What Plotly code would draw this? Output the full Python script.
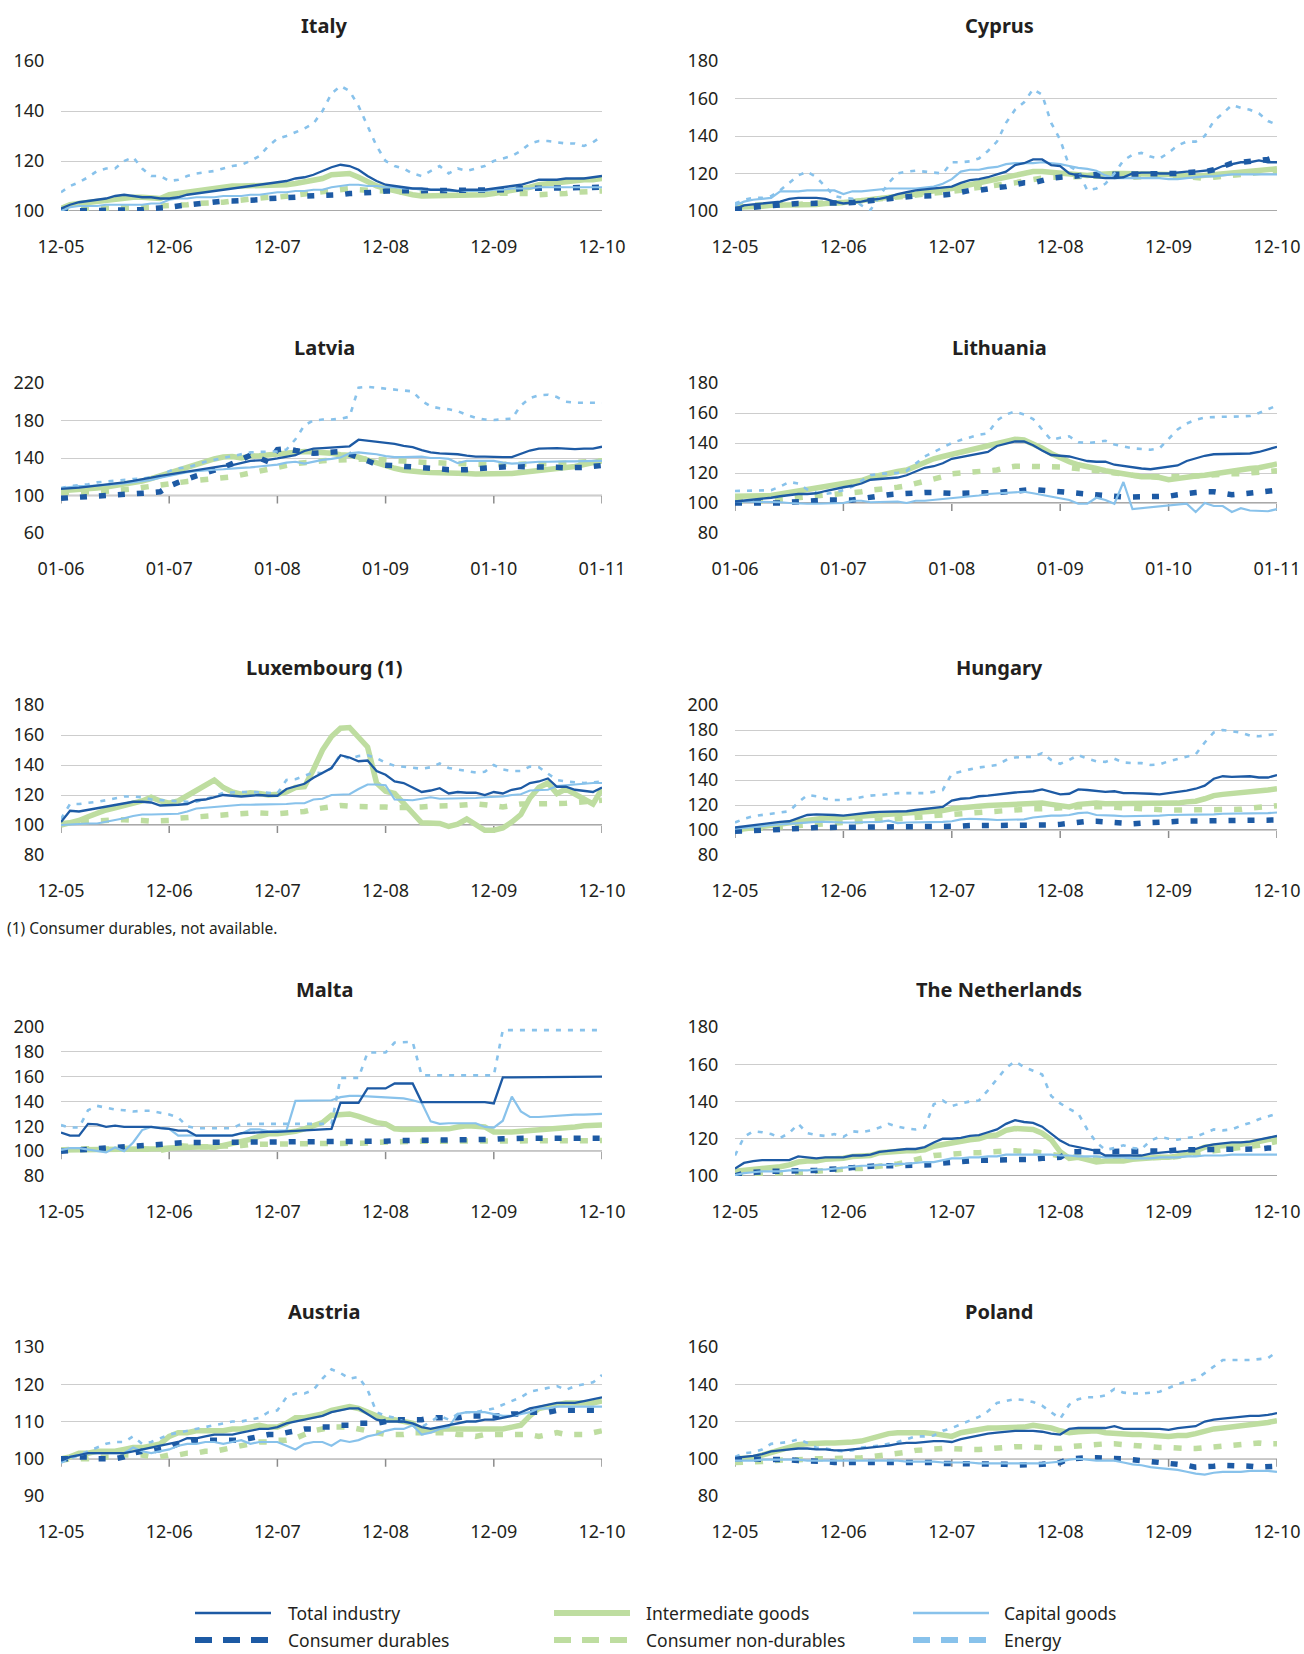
import plotly.graph_objects as go

# ---------------- data (monthly index values, 61 months) ----------------
MONTHS = list(range(61))
TICK_POS = [0, 12, 24, 36, 48, 60]
TICKS_DEC = ["12-05", "12-06", "12-07", "12-08", "12-09", "12-10"]
TICKS_JAN = ["01-06", "01-07", "01-08", "01-09", "01-10", "01-11"]

# Italy
IT_TOTAL = [101, 102.5, 103.5, 104, 104.5, 105, 106, 106.5, 106, 105.5, 105.5, 105, 105,
            105.5, 106.5, 107, 107.5, 108, 108.5, 109, 109.5, 110, 110.5, 111, 111.5,
            112, 113, 113.5, 114.5, 116, 117.5, 118.5, 118, 116.5, 114, 112, 110.5,
            110, 109.5, 109, 109, 108.5, 108.5, 108.5, 108, 108.5, 108.5, 108.5, 109,
            109.5, 110, 110.5, 111.5, 112.5, 112.5, 112.5, 113, 113, 113, 113.5, 114]
IT_INTERMEDIATE = [101, 102.5, 103, 103.5, 104, 104.5, 105, 105.5, 105.5, 105.5, 105.5, 105, 106.5,
                   107, 107.5, 108.5, 109, 109.5, 109.5, 110, 110, 110, 110, 110, 110,
                   110.5, 111, 111.5, 112, 113, 114.5, 115, 115, 113.5, 111.5, 110, 109,
                   108, 107, 106.5, 106, 106, 106, 106, 106, 106.5, 106.5, 106.5, 107,
                   107.5, 108, 108.5, 109.5, 110.5, 111, 111, 111.5, 112, 112.5, 112.5, 113]
IT_CAPITAL = [100, 101.5, 102, 102, 102, 102.5, 102.5, 102.5, 102.5, 102.5, 103, 103, 104.5,
              105, 105, 105.5, 105.5, 105.5, 106, 106, 106, 106.5, 106.5, 107, 107.5,
              107.5, 108, 108, 108.5, 108.5, 109.5, 110, 110.5, 110.5, 110, 110, 109.5,
              109.5, 109, 109, 108.5, 108.5, 108.5, 108, 108, 108, 108, 108, 108.5,
              108.5, 109, 109, 109, 109.5, 109.5, 109.5, 109.5, 109.5, 109.5, 109.5, 109.5]
IT_DURABLES = [100, 100, 100, 100, 100, 100, 100, 100, 100.5, 100.5, 101, 101, 101.5,
               102, 102.5, 103, 103.5, 103.5, 104, 104, 104, 104.5, 104.5, 105, 105,
               105.5, 105.5, 106, 106, 106, 106.5, 106.5, 107, 107, 107.5, 107.5, 108,
               108, 108, 108, 108, 108, 108, 108, 108, 108, 108, 108, 108,
               108.5, 108.5, 109, 109, 109, 109, 109.5, 109.5, 109.5, 109.5, 109.5, 109.5]
IT_NONDURABLES = [100.5, 101, 101, 101, 101, 101, 101.5, 101.5, 101.5, 101.5, 101.5, 102, 102,
                  102.5, 102.5, 103, 103, 103, 103.5, 104, 104.5, 105, 105.5, 105.5, 105.5,
                  106, 106.5, 107, 107, 107.5, 108, 108.5, 109, 108.5, 108.5, 108, 108,
                  107.5, 107.5, 107, 107, 107, 107, 107, 107, 107, 107, 107, 107,
                  107, 107, 107, 107, 106.5, 106.5, 107, 107, 107.5, 107.5, 108, 108]
IT_ENERGY = [107.5, 110, 111.5, 113.5, 116, 117, 117, 120, 121.5, 117, 114, 114, 112,
             112.5, 114, 115, 115.5, 116, 117, 118, 118.5, 120, 122, 126, 129,
             130, 131.5, 133, 135, 140, 147, 150, 148, 142, 134, 126, 120,
             118, 117, 115, 114, 116, 118, 115, 117, 116, 117, 118, 120,
             121, 122, 124, 127, 128, 128, 127.5, 127, 127, 126, 127.5, 130]

# Cyprus
CY_TOTAL = [101, 103, 103.5, 104, 104.5, 105, 106.5, 107, 107, 107, 106.5, 105, 104,
            104.5, 105, 106, 106.5, 107.5, 109, 110, 111, 111.5, 112, 112.5, 113,
            115, 116.5, 117, 118, 119.5, 121, 124.5, 125.5, 127.5, 127.5, 124.5, 124,
            120, 119, 118.5, 118, 117.5, 117.5, 118, 120, 120.5, 120.5, 120, 120,
            120.5, 121, 121, 121.5, 122, 124, 125, 126, 126, 127, 126, 126]
CY_INTERMEDIATE = [102, 102, 102.5, 102.5, 103, 103, 103.5, 103.5, 103.5, 103.5, 104, 104, 104.5,
                   105, 105.5, 106, 106.5, 107, 107.5, 108, 109, 110, 111, 111.5, 112,
                   113, 114, 115, 116, 117, 118.5, 119.5, 120.5, 121, 121, 120.5, 120,
                   119.5, 119, 119, 119.5, 120, 120, 120, 120, 120, 120, 120, 119.5,
                   119, 118.5, 118.5, 119, 119.5, 120, 120.5, 121, 121, 121.5, 122, 122.5]
CY_CAPITAL = [103, 105, 106, 106.5, 107, 110.5, 110.5, 110.5, 111, 111, 111, 111, 109,
              110.5, 110.5, 111, 111.5, 112, 112, 112, 112, 112.5, 113, 114.5, 117,
              121, 122, 122, 123, 123.5, 125, 125.5, 125.5, 125.5, 126, 125.5, 125,
              124, 123, 122.5, 121.5, 119, 117.5, 117.5, 117.5, 117.5, 117.5, 117.5, 117,
              117, 117.5, 118, 118.5, 118.5, 119, 119.5, 119.5, 119.5, 119.5, 119.5, 119.5]
CY_DURABLES = [101, 101, 102, 102.5, 103, 103, 104, 104, 104, 104, 104, 104.5, 104.5,
               104.5, 105, 105.5, 106, 106.5, 107.5, 108, 108, 108, 108, 108.5, 109,
               110, 111, 111, 112, 112.5, 113, 114, 115, 115, 116.5, 117.5, 118,
               118.5, 119, 119.5, 119.5, 119.5, 119.5, 119.5, 119.5, 119.5, 119.5, 119.5, 119.5,
               120, 120.5, 120.5, 121, 122, 124, 125.5, 126, 126.5, 127, 127.5, 129]
CY_NONDURABLES = [103, 103, 103, 103, 103, 103.5, 103.5, 103.5, 104, 104, 104, 104, 104.5,
                  105, 105.5, 105.5, 106, 106.5, 107, 107.5, 108, 108.5, 109, 109.5, 110,
                  111, 112, 112.5, 113, 113.5, 114, 115, 116, 117, 117.5, 118, 118,
                  118.5, 118.5, 118.5, 118.5, 119, 119, 118.5, 118, 118.5, 119, 119, 119,
                  118.5, 118, 117.5, 117.5, 118, 118.5, 119, 119.5, 120, 120.5, 121, 121.5]
CY_ENERGY = [104, 106, 107, 107, 108, 111, 115, 119, 121, 118, 113, 108, 107,
             106.5, 103, 100.5, 108, 115, 120, 121, 121.5, 121, 120.5, 120, 126,
             126, 126.5, 128, 132, 137, 147, 154, 158, 165, 162, 147, 138,
             124, 121, 111, 112, 114.5, 120, 127, 130, 131, 129, 128, 131,
             135, 137, 137, 140, 148, 152, 156.5, 155, 154, 152, 148, 146]

# Latvia
LV_TOTAL = [107, 107.5, 108.5, 109.5, 110.5, 111.5, 112.5, 114, 115.5, 117, 119, 121, 122.5,
            124, 125.5, 127, 129, 130, 131.5, 132.5, 135, 137, 137.5, 138, 139.5,
            141, 143, 147.5, 150, 150.5, 151, 152, 152.5, 159.5, 158.5, 157.5, 156,
            155, 153, 151.5, 148.5, 146, 145, 144.5, 144, 142.5, 141.5, 141.5, 141,
            141, 141, 144.5, 148, 150, 150.5, 150.5, 150, 149.5, 150, 150, 152]
LV_INTERMEDIATE = [105, 105.5, 106, 107, 108, 109, 110.5, 112, 113.5, 115.5, 118, 121, 124,
                   127, 130, 133, 137, 139, 141, 141.5, 140, 142, 142.5, 143.5, 144.5,
                   146, 146, 147, 146.5, 146, 145, 143.5, 143, 141, 138, 135, 131,
                   129, 127, 125.5, 125, 124.5, 124.5, 124.5, 124, 123.5, 123, 123, 123,
                   123.5, 123.5, 124.5, 125.5, 126, 127, 128, 129.5, 131, 133, 135, 137]
LV_CAPITAL = [108, 109, 110, 110, 110.5, 111, 112, 113, 114, 115, 116.5, 119, 121,
              123, 125, 126, 127, 127.5, 128, 129, 129.5, 130, 131, 132, 133,
              135, 136, 134, 136, 138, 139, 140.5, 145, 146, 145, 144, 142,
              141, 141, 141.5, 141.5, 140, 140, 139, 134.5, 137, 137, 137.5, 137,
              135, 134, 134.5, 135.5, 136, 136, 136.5, 136.5, 136.5, 137, 137, 137]
LV_DURABLES = [97, 97.5, 98, 98.5, 99, 99.5, 100.5, 101, 102, 102.5, 103, 104, 110,
               114, 118, 121, 124, 126.5, 130, 134, 138, 143, 140, 136, 149,
               150, 148, 146, 145, 145.5, 146.5, 147, 144, 141, 137, 133, 132.5,
               132, 131.5, 131, 130, 129.5, 128.5, 127.5, 127, 127.5, 128.5, 129.5, 130,
               130.5, 131, 131, 131, 131, 130.5, 130, 129.5, 129.5, 130, 131, 132]
LV_NONDURABLES = [103, 103, 103, 103.5, 104, 104.5, 105, 106, 107, 108.5, 110, 111.5, 113,
                  114, 115, 116, 117, 117.5, 118.5, 120, 122, 124, 126, 128.5, 131,
                  133, 134, 135, 136.5, 137, 137.5, 138, 139, 139.5, 139, 138.5, 137.5,
                  137, 136.5, 136, 135.5, 135, 135, 134.5, 134, 134, 133.5, 133, 133,
                  133, 133, 133, 133, 133.5, 133.5, 134, 134.5, 135, 135.5, 136, 137]
LV_ENERGY = [108, 110, 111, 112, 114, 115, 116, 116.5, 117.5, 118, 119.5, 121, 126,
             129, 130, 133, 136, 138, 140, 142, 144, 146, 146.5, 146.5, 147,
             149, 160, 175, 180, 181, 181, 182, 184, 215, 216, 215, 214,
             213, 212, 211, 201, 195, 193, 192, 190, 186, 183, 181, 180.5,
             181, 182, 196, 204, 207, 207.5, 205, 200, 199, 199, 199, 199]

# Lithuania
LT_TOTAL = [101, 101.5, 102, 102.5, 103.5, 104.5, 105.5, 106, 106, 106.5, 108, 109.5, 110.5,
            111.5, 113, 115.5, 116, 116, 117, 118.5, 121, 123.5, 124.5, 126.5, 129.5,
            130.5, 131.5, 133, 134, 138, 139.5, 141, 141, 138.5, 135, 132, 131.5,
            131, 129.5, 128, 127.5, 127.5, 125.5, 124.5, 123.5, 123, 122.5, 123.5, 124,
            125, 128, 130, 131.5, 132.5, 132.5, 132.5, 132.5, 133, 134, 135.5, 137.5]
LT_INTERMEDIATE = [104.5, 104.5, 104.5, 105, 105, 106, 107, 108, 109, 109.5, 110.5, 111.5, 112.5,
                   114, 115, 117, 118.5, 120, 121, 122, 124.5, 127.5, 129.5, 131, 132.5,
                   134, 135.5, 137, 138.5, 140, 141.5, 142.5, 142, 139.5, 136.5, 133, 130,
                   127.5, 125.5, 124.5, 123, 121.5, 120.5, 119, 118.5, 117.5, 117.5, 117, 115.5,
                   116.5, 117, 118, 118.5, 119.5, 120, 121, 122, 123, 123.5, 124.5, 126]
LT_CAPITAL = [101, 101, 101, 100.5, 100.5, 100.5, 100, 99.5, 99.5, 99.5, 99.5, 100, 100,
              101.5, 101.5, 100.5, 100.5, 101, 101, 100, 101.5, 101.5, 102, 102.5, 103.5,
              104, 104.5, 105, 106, 106.5, 106.5, 107, 107.5, 106.5, 105.5, 104.5, 103.5,
              102, 99.5, 99.5, 103.5, 102, 99.5, 114, 96, 96.5, 97, 97.5, 98,
              99, 99.5, 94, 100, 98, 98, 94, 96.5, 95, 94.5, 94.5, 96]
LT_DURABLES = [100, 100, 99.5, 99.5, 99.5, 100, 100.5, 101, 101.5, 102, 102, 102, 102,
               102, 103, 104, 104.5, 105.5, 106, 106.5, 107, 107, 107, 106.5, 106.5,
               106.5, 106.5, 106.5, 106.5, 107, 107.5, 108, 108.5, 109, 108.5, 108, 107.5,
               107, 106.5, 106, 105, 104.5, 104, 104, 104, 104, 104, 104, 104.5,
               105.5, 106.5, 107, 107.5, 107.5, 106.5, 105.5, 106, 106.5, 107, 108, 108.5]
LT_NONDURABLES = [101, 101, 101, 101.5, 101.5, 102.5, 103, 104, 104.5, 105, 105.5, 106, 106.5,
                  107, 107.5, 108.5, 109, 110, 110.5, 111.5, 113, 114, 115.5, 117.5, 119.5,
                  120, 120.5, 120.5, 121, 122, 123.5, 124.5, 124.5, 124.5, 124.5, 124, 124,
                  123.5, 123, 122.5, 122, 121, 120, 119, 118.5, 118, 117.5, 117.5, 117.5,
                  117.5, 117.5, 118, 118.5, 119, 119, 119.5, 119.5, 120, 120.5, 121, 121.5]
LT_ENERGY = [108, 108, 108, 108, 108.5, 111, 114, 113, 109, 107, 106, 107, 108.5,
             111, 115, 118.5, 119.5, 119.5, 120, 121.5, 126, 131, 134, 137, 140,
             142, 144, 145.5, 146.5, 155, 159, 161, 159, 156, 149, 142, 143.5,
             144.5, 140.5, 140, 140.5, 141.5, 139, 137.5, 136.5, 136, 135.5, 136.5, 143,
             149, 153, 155.5, 157, 157.5, 157.5, 157.5, 157.5, 158, 160, 162.5, 165]

# Luxembourg (consumer durables not available)
LU_TOTAL = [102, 109.5, 109, 110, 111, 112, 113, 114.5, 115.5, 115.5, 115, 113, 113,
            113.5, 114, 116.5, 117, 118.5, 120, 119.5, 119, 119.5, 120, 119.5, 119.5,
            124, 125.5, 127.5, 131.5, 135, 138, 146.5, 145, 142.5, 143, 136, 133.5,
            129, 128, 125, 122, 123, 124.5, 121, 122, 121.5, 121.5, 120, 122,
            121, 123.5, 124.5, 128, 129, 131, 125.5, 125.5, 123.5, 123, 122, 125]
LU_INTERMEDIATE = [100, 101.5, 103, 105.5, 108, 110, 111.5, 113, 114.5, 116, 118.5, 116, 114.5,
                   116, 119.5, 123, 126.5, 130, 125, 122, 120.5, 121.5, 121, 120, 120.5,
                   122, 125, 125.5, 137, 150, 159, 164.5, 165, 158, 152, 128, 122.5,
                   121, 115, 108, 101.5, 101, 101, 99, 100.5, 104, 100, 96.5, 96.5,
                   98, 102, 107, 118, 125, 128, 121, 124, 121, 118, 114, 124]
LU_CAPITAL = [100, 100.5, 101, 101, 101, 102, 103.5, 104.5, 106, 107, 107, 107, 107,
              107.5, 109, 111, 111.5, 112, 113, 113, 113.5, 113.5, 113.5, 113.5, 114,
              114, 114.5, 114.5, 117, 117.5, 120, 120.5, 120.5, 124, 127, 127, 126.5,
              117, 116.5, 116.5, 117.5, 118.5, 117.5, 117.5, 117.5, 117.5, 118, 118.5, 118.5,
              119, 120, 120.5, 123, 123, 123.5, 126, 126.5, 127, 128, 128, 128]
LU_NONDURABLES = [101, 101.5, 102, 102.5, 103, 103, 103.5, 103.5, 103.5, 103, 102.5, 102.5, 103,
                  104.5, 105, 105.5, 105.5, 106, 106.5, 107, 107.5, 108, 108, 107.5, 107.5,
                  108, 108.5, 109, 110.5, 111.5, 112.5, 113, 112.5, 112.5, 112.5, 112, 112,
                  111.5, 111.5, 112, 112, 112.5, 112.5, 113, 113, 113.5, 114, 113.5, 113,
                  112, 113, 114, 114, 114, 114, 114, 114.5, 115, 115.5, 116, 116.5]
LU_ENERGY = [104, 114, 114, 114.5, 115.5, 116.5, 118, 119, 119, 118.5, 117, 116.5, 116.5,
             116, 115.5, 115.5, 117, 119, 121.5, 122, 122, 122, 122, 121.5, 121,
             130, 130.5, 133, 135, 134.5, 138, 147, 144, 146, 146.5, 144.5, 141.5,
             139.5, 139, 138.5, 137.5, 138.5, 141, 138, 137, 136, 135, 135.5, 140,
             137, 136, 136, 139, 138.5, 134, 130, 129, 128.5, 128, 128.5, 129]

# Hungary
HU_TOTAL = [102, 103, 103.5, 104.5, 105.5, 106.5, 107, 109.5, 112, 112.5, 112.5, 112, 111.5,
            112.5, 113.5, 114, 114.5, 114.5, 115, 115, 116, 117, 118, 118.5, 123.5,
            125, 125.5, 127, 127.5, 128.5, 129.5, 130, 130.5, 131, 132.5, 130.5, 128.5,
            129, 132.5, 132, 131, 130.5, 131, 129.5, 129.5, 129.5, 129, 128.5, 129.5,
            130, 131.5, 133, 135.5, 141, 143, 142.5, 143, 143, 142, 142, 144]
HU_INTERMEDIATE = [100, 101, 102, 103, 104, 105, 106.5, 107.5, 108.5, 109, 109.5, 109.5, 110,
                   110, 110.5, 111, 111.5, 112, 112.5, 113, 113.5, 114, 115, 115.5, 117,
                   118, 118.5, 119, 119.5, 120, 120.5, 121, 121.5, 121.5, 121.5, 120.5, 119,
                   118.5, 120.5, 121.5, 121.5, 121, 121, 121, 121, 121, 121, 121, 121,
                   121.5, 122.5, 123, 125, 127.5, 128.5, 129, 129.5, 130, 131, 132, 133]
HU_CAPITAL = [101, 101.5, 102.5, 103, 104, 104.5, 105.5, 106, 106.5, 106.5, 106.5, 106, 106,
              106, 106, 106, 106.5, 107.5, 105.5, 106, 106, 106, 106.5, 106.5, 107,
              108.5, 109, 109, 108.5, 108, 108, 108, 108.5, 110, 111, 111.5, 111.5,
              112, 113.5, 114, 112, 112, 111.5, 111, 111, 111.5, 111.5, 111.5, 112,
              112, 112, 112, 112, 112.5, 113, 113, 113, 113, 113.5, 113.5, 114]
HU_DURABLES = [99, 99, 99, 99.5, 100, 100.5, 100.5, 101, 101.5, 102, 102, 102, 102,
               102, 102.5, 102.5, 102.5, 102.5, 102.5, 102.5, 102.5, 102.5, 102.5, 102.5, 103,
               103, 103.5, 103.5, 103.5, 103.5, 103, 103, 103, 103, 103.5, 104, 104.5,
               105.5, 106, 107, 107, 106.5, 106, 105, 105, 105.5, 105.5, 106, 106.5,
               107, 107, 107, 107, 107, 107, 107.5, 107.5, 107.5, 107.5, 108, 108]
HU_NONDURABLES = [100, 100.5, 101, 101, 101.5, 102, 102, 103, 104, 104.5, 104.5, 105, 105.5,
                  106, 106.5, 107, 107, 107.5, 108, 108.5, 109.5, 110.5, 111.5, 112, 113,
                  113.5, 114, 115, 115.5, 116, 116.5, 116.5, 117, 117, 117, 117, 117.5,
                  118, 118.5, 119, 118.5, 118.5, 118, 118, 117.5, 117, 117, 116.5, 116,
                  116, 116, 116, 116, 116, 116, 116, 116.5, 117.5, 118.5, 119, 119.5]
HU_ENERGY = [106, 109, 111, 112, 113, 114, 115, 122, 128, 127, 125, 124, 124,
             125, 126.5, 127.5, 128, 129, 129.5, 129.5, 129.5, 129.5, 130.5, 132, 145,
             147, 148.5, 150, 151, 152, 156, 158, 158.5, 158.5, 161.5, 156, 153,
             156, 160, 157, 155, 154.5, 157, 154, 153.5, 153.5, 152, 152.5, 155,
             157, 159, 160.5, 170, 178, 180, 179, 178, 175.5, 175, 176, 177]

# Malta
MT_TOTAL = [115, 112.5, 112.5, 122, 121.5, 119.5, 120.5, 119.5, 119.5, 119.5, 119.5, 118.5, 118,
            116.5, 116.5, 112.5, 112.5, 112.5, 112.5, 112.5, 114.5, 115, 115.5, 115.5, 115.5,
            116, 116.5, 116.5, 117, 117.5, 118, 139, 139, 139, 150.5, 150.5, 150.5,
            154.5, 154.5, 154.5, 139.5, 139.5, 139.5, 139.5, 139.5, 139.5, 139.5, 139.5, 138.5,
            159.5, 159.5, 159.5, 159.5, 159.5, 159.5, 159.5, 159.5, 160, 160, 160, 160]
MT_INTERMEDIATE = [101, 101, 101.5, 101.5, 101, 101.5, 102, 102, 101.5, 102, 101.5, 102, 102.5,
                   103, 102.5, 103, 103.5, 103, 104.5, 105.5, 107, 109.5, 112, 114, 114,
                   114.5, 116, 118, 121, 123, 129, 130, 130, 128, 125, 123, 122,
                   118, 117.5, 117.5, 118, 118.5, 118, 118, 119.5, 120.5, 120, 119.5, 115.5,
                   115, 115.5, 116, 116.5, 117, 117.5, 117.5, 118.5, 119.5, 120.5, 121, 121]
MT_CAPITAL = [101, 102.5, 102.5, 101.5, 100, 99, 103, 100, 107, 117, 119.5, 118.5, 118,
              112.5, 112.5, 112.5, 112.5, 112.5, 112.5, 113, 114, 117.5, 117.5, 116, 116.5,
              116.5, 140.5, 140.5, 140.5, 140.5, 141, 143.5, 144.5, 144.5, 144, 144, 143,
              142.5, 142.5, 141, 139, 124, 122, 122.5, 122.5, 122.5, 122.5, 119.5, 119,
              124.5, 144, 132, 127.5, 127.5, 128, 129, 129.5, 129.5, 129.5, 129.5, 130]
MT_DURABLES = [100, 100.5, 101, 102, 103, 103.5, 104, 104.5, 105, 105.5, 105.5, 105.5, 106,
               106.5, 107, 107, 107, 107, 107, 107, 107, 107, 107, 107, 107,
               107, 107, 107, 107, 107, 107, 107, 107, 107.5, 107.5, 108, 108,
               108.5, 108.5, 108.5, 108.5, 108.5, 108.5, 108.5, 108.5, 108.5, 108.5, 109, 109.5,
               110, 110.5, 110.5, 110.5, 110.5, 110.5, 110.5, 110.5, 110.5, 110.5, 110.5, 110.5]
MT_NONDURABLES = [101, 101.5, 102.5, 102, 101.5, 102, 102.5, 103, 102.5, 102, 101, 100.5, 102,
                  104.5, 104, 103.5, 103.5, 104, 104, 104, 104.5, 105.5, 105.5, 105.5, 105.5,
                  105.5, 105.5, 105.5, 106, 106, 106, 106, 106, 106.5, 106.5, 107, 107.5,
                  108, 108, 108, 108, 108, 108, 108, 108, 108, 108, 108, 108,
                  108, 108, 108, 108, 108, 108, 108, 108, 108.5, 108.5, 108.5, 108.5]
MT_ENERGY = [121, 119, 119, 133, 136.5, 135, 133.5, 133, 132, 132.5, 132.5, 131, 129.5,
             127, 120, 118.5, 118.5, 118.5, 118.5, 118.5, 122, 122, 122, 122, 122,
             122, 122, 122, 122, 122, 122, 159, 159, 159, 179.5, 179.5, 179.5,
             187.5, 188, 188, 161, 161, 161, 161, 161, 161, 161, 161, 161,
             197.5, 197.5, 197.5, 197.5, 197.5, 197.5, 197.5, 197.5, 197.5, 197.5, 197.5, 197.5]

# The Netherlands
NL_TOTAL = [104, 107, 108, 108.5, 108.5, 108.5, 108.5, 110.5, 110, 109.5, 110, 110, 110,
            111, 111, 111.5, 113, 113.5, 114, 114.5, 114.5, 115.5, 118, 120, 120,
            120.5, 121.5, 122, 123.5, 125, 128, 130, 129, 128.5, 126.5, 122.5, 119,
            116.5, 115.5, 114.5, 113.5, 111, 111, 111, 111, 111, 112, 112.5, 113,
            113, 113.5, 114.5, 116, 117, 117.5, 118, 118, 118.5, 119.5, 120.5, 121.5]
NL_INTERMEDIATE = [102.5, 103, 103.5, 103.5, 104, 105, 106, 107.5, 108, 108, 109, 109, 109.5,
                   110.5, 110.5, 111, 112.5, 113, 113.5, 113.5, 113.5, 114, 116, 117, 118,
                   119, 119.5, 120, 121.5, 122, 124.5, 125.5, 125.5, 125, 123, 119.5, 113,
                   109.5, 110, 109, 107.5, 108, 108, 108, 109, 109.5, 109.5, 110, 110,
                   110.5, 111.5, 113.5, 115.5, 116, 116, 116.5, 117, 117.5, 118.5, 119.5, 120.5]
NL_CAPITAL = [100.5, 101.5, 102, 102.5, 102.5, 102.5, 103, 103, 103, 103.5, 103.5, 104, 104.5,
              105, 105.5, 105.5, 106, 106, 106.5, 106.5, 107, 107.5, 107.5, 108.5, 109.5,
              109.5, 110, 110, 110.5, 110.5, 111.5, 111.5, 111.5, 111.5, 111.5, 111.5, 111,
              111, 110.5, 110.5, 110.5, 110, 110, 110, 109.5, 109.5, 109.5, 110, 110,
              110, 110.5, 110.5, 111, 111, 111, 111.5, 111.5, 111.5, 111.5, 111.5, 111.5]
NL_DURABLES = [100, 101.5, 102, 102.5, 102.5, 102.5, 102.5, 103, 103, 103, 103.5, 103.5, 104,
               104.5, 105, 105.5, 105.5, 105.5, 105.5, 105.5, 105.5, 106, 106, 107, 107.5,
               108, 108, 108.5, 108.5, 108.5, 108.5, 108.5, 109, 109, 109.5, 109.5, 110,
               113, 113, 113, 113, 113, 113, 113, 113, 113.5, 113.5, 113.5, 113.5,
               114, 114, 114.5, 114.5, 114.5, 114.5, 114.5, 114.5, 114.5, 114.5, 115, 115]
NL_NONDURABLES = [101, 101.5, 101.5, 101.5, 101.5, 101.5, 101.5, 102, 102, 102.5, 103, 103, 103.5,
                  104, 104, 104.5, 105, 105.5, 106.5, 107.5, 109, 110, 111, 111.5, 112,
                  112, 112.5, 112.5, 113, 113.5, 113.5, 113.5, 113.5, 113, 112.5, 111.5, 110.5,
                  110, 110, 109.5, 109.5, 109.5, 109.5, 109.5, 109.5, 109.5, 109.5, 110, 110,
                  110.5, 111.5, 112, 113, 113.5, 114, 115, 115.5, 115.5, 116.5, 117.5, 118.5]
NL_ENERGY = [111, 121, 124, 123.5, 122.5, 120.5, 123, 128, 123, 122, 121.5, 122.5, 121,
             124, 123.5, 124.5, 126, 128, 126.5, 125.5, 125, 126, 138.5, 140.5, 137.5,
             139, 140, 140.5, 146, 152, 158, 161.5, 158.5, 156.5, 154.5, 143, 139,
             136, 133.5, 125, 118, 114, 115, 116.5, 115, 114.5, 119, 121, 120,
             119.5, 120.5, 121, 123, 125, 124.5, 125, 127, 128.5, 130.5, 132, 133.5]

# Austria
AT_TOTAL = [99.5, 100.5, 101, 101.5, 101.5, 101.5, 101.5, 101.5, 102, 102.5, 103, 103.5, 104,
            104.5, 105.5, 105.5, 106, 106.5, 106.5, 106.5, 107, 107.5, 108, 108, 108.5,
            109.5, 110, 110.5, 111, 111.5, 112.5, 113, 113.5, 113.5, 112, 110.5, 110,
            110, 110, 109.5, 108.5, 108, 108.5, 109, 109.5, 110, 110, 110.5, 110.5,
            111, 111.5, 112.5, 113.5, 114, 114.5, 115, 115, 115, 115.5, 116, 116.5]
AT_INTERMEDIATE = [100, 100.5, 101.5, 101.5, 102, 102, 102, 102.5, 103, 103, 103.5, 104, 106,
                   107, 107, 107.5, 107.5, 107.5, 107.5, 108, 108, 108.5, 109, 108.5, 108.5,
                   109.5, 111, 111, 111.5, 112, 113, 113.5, 114, 113.5, 112.5, 111.5, 110.5,
                   110.5, 110, 109.5, 107.5, 107.5, 108, 108, 108, 108, 108, 108, 108,
                   108, 108.5, 109, 111.5, 113.5, 114, 114.5, 115, 115, 115, 115, 115.5]
AT_CAPITAL = [99, 100.5, 101, 101.5, 101.5, 101.5, 101.5, 101.5, 103, 102, 101.5, 102, 102.5,
              103.5, 104, 104, 104.5, 104.5, 104, 104.5, 105, 104, 104.5, 104.5, 104.5,
              103.5, 102.5, 104, 104.5, 104.5, 103.5, 105, 104.5, 105, 106, 106.5, 107.5,
              108, 108, 109, 106.5, 107, 108, 108.5, 112, 112.5, 112.5, 112.5, 112,
              111.5, 111.5, 112, 112.5, 113.5, 113.5, 114, 114, 114, 114, 114, 114]
AT_DURABLES = [100, 100, 100.5, 100.5, 100, 100, 100, 100.5, 101.5, 102, 102, 102.5, 103,
               104, 104.5, 105, 105, 105, 105, 105, 105, 105.5, 106, 106.5, 106.5,
               107, 107.5, 108, 108, 108.5, 108.5, 109, 109, 109.5, 109.5, 109.5, 110,
               110.5, 110.5, 110.5, 110.5, 111, 111, 111, 111, 111.5, 111.5, 111.5, 111.5,
               111.5, 112, 112, 112.5, 112.5, 112.5, 113, 113, 113, 113, 113, 113]
AT_NONDURABLES = [99.5, 100, 100, 100, 100.5, 100.5, 100.5, 101, 101, 101, 100.5, 100.5, 101,
                  101, 101.5, 101.5, 102, 102, 102.5, 103, 103.5, 104, 104.5, 104.5, 105,
                  105, 105.5, 106.5, 107.5, 108, 108.5, 108.5, 108.5, 108, 107.5, 107, 106.5,
                  106.5, 106.5, 107, 107, 107, 107, 107, 106.5, 106.5, 106, 106.5, 106.5,
                  106.5, 106.5, 106.5, 106.5, 106, 106.5, 107, 106.5, 106.5, 106.5, 107, 107.5]
AT_ENERGY = [99, 100, 101, 102, 103, 104, 104.5, 104.5, 106, 104, 104.5, 105.5, 106.5,
             107, 107.5, 108, 108.5, 109, 109.5, 110, 110, 110.5, 111, 112.5, 113,
             116.5, 117.5, 117.5, 118.5, 121.5, 124, 123, 121.5, 122, 118.5, 112.5, 111.5,
             111, 110, 109, 108.5, 110, 111.5, 110.5, 112, 112.5, 112.5, 113, 113.5,
             114.5, 115.5, 116.5, 118, 118.5, 119, 119.5, 118.5, 119.5, 120, 120.5, 122.5]

# Poland
PL_TOTAL = [100.5, 101, 101.5, 102.5, 104, 104.5, 105, 105.5, 105.5, 105, 105, 104.5, 104.5,
            105, 105.5, 106, 106.5, 107, 108, 108.5, 108.5, 109, 109.5, 109.5, 109,
            110.5, 111.5, 112.5, 113.5, 114, 114.5, 115, 115, 115, 114.5, 113.5, 113,
            116, 116.5, 116.5, 116.5, 116.5, 117.5, 116, 116, 116, 116, 116, 115.5,
            116.5, 117, 117.5, 120, 121, 121.5, 122, 122.5, 123, 123, 123.5, 124.5]
PL_INTERMEDIATE = [100, 100, 100.5, 102, 103.5, 105, 106.5, 107.5, 108, 108.5, 108.5, 108.5, 108.5,
                   109, 109.5, 111, 112.5, 113.5, 114, 114, 114.5, 114, 113.5, 112.5, 112,
                   114, 115, 116, 116.5, 116.5, 116.5, 116.5, 117, 118, 117.5, 116.5, 115,
                   114, 114.5, 115, 115, 114, 113.5, 113, 113, 113, 112.5, 112.5, 112,
                   112.5, 112.5, 113.5, 115, 116, 116.5, 117, 117.5, 118.5, 119, 119.5, 120.5]
PL_CAPITAL = [99, 99, 99, 99.5, 99.5, 99.5, 99.5, 99.5, 99, 99, 99, 99, 99,
              99, 99, 99, 99, 99, 99, 98.5, 98.5, 98.5, 98.5, 98, 98,
              98, 98, 97.5, 97.5, 97.5, 97.5, 97.5, 97.5, 97.5, 97.5, 98, 98.5,
              99.5, 100, 99.5, 99, 99, 99, 98, 97, 96.5, 95.5, 95, 94.5,
              94, 93, 92, 91.5, 92.5, 93, 93, 93, 93.5, 93.5, 93.5, 93]
PL_DURABLES = [100, 100, 100, 100, 100, 99.5, 99.5, 99, 99, 98.5, 98.5, 98, 98,
               98, 98, 98.5, 98.5, 98.5, 98.5, 98.5, 98, 98, 98, 97.5, 97.5,
               97.5, 97.5, 97, 97, 97, 97, 96.5, 96.5, 96.5, 97, 97.5, 98,
               100, 100.5, 100.5, 100.5, 100.5, 100.5, 100, 99.5, 99, 98.5, 98.5, 98,
               97.5, 96.5, 95.5, 95.5, 96, 96.5, 96.5, 96.5, 96, 95.5, 95.5, 96]
PL_NONDURABLES = [98, 98, 98, 98.5, 99, 99.5, 99.5, 99.5, 100, 100, 100, 100, 100,
                  100.5, 100.5, 101, 101.5, 102, 102.5, 103.5, 104.5, 105, 105.5, 105.5, 105.5,
                  105, 105, 105, 105.5, 106, 106.5, 106.5, 106.5, 106.5, 106, 105.5, 105.5,
                  106.5, 107, 107.5, 107.5, 108, 108, 107.5, 107, 106.5, 106.5, 106, 106,
                  105.5, 105.5, 105.5, 106, 106.5, 107, 107.5, 108, 108.5, 108.5, 108, 108]
PL_ENERGY = [101, 103, 103.5, 105, 108, 108.5, 109, 110.5, 108.5, 106, 105.5, 104.5, 104,
             104.5, 106, 106.5, 107, 108, 109, 110.5, 112, 112, 112.5, 115, 116.5,
             118.5, 120.5, 122.5, 125.5, 130, 131, 132, 131.5, 130.5, 128.5, 125, 121.5,
             129, 132, 133, 133, 134, 137.5, 135.5, 135, 135, 135.5, 136, 138,
             140, 141.5, 142.5, 146, 149.5, 153, 153, 153, 153, 153.5, 154, 157.5]

# ---------------- assemble ----------------
SERIES = ["Total industry", "Consumer durables", "Intermediate goods",
          "Consumer non-durables", "Capital goods", "Energy"]


def pack(total, durables, intermediate, nondurables, capital, energy):
    return dict(zip(SERIES, [total, durables, intermediate, nondurables, capital, energy]))


DATA = {
    "IT": pack(IT_TOTAL, IT_DURABLES, IT_INTERMEDIATE, IT_NONDURABLES, IT_CAPITAL, IT_ENERGY),
    "CY": pack(CY_TOTAL, CY_DURABLES, CY_INTERMEDIATE, CY_NONDURABLES, CY_CAPITAL, CY_ENERGY),
    "LV": pack(LV_TOTAL, LV_DURABLES, LV_INTERMEDIATE, LV_NONDURABLES, LV_CAPITAL, LV_ENERGY),
    "LT": pack(LT_TOTAL, LT_DURABLES, LT_INTERMEDIATE, LT_NONDURABLES, LT_CAPITAL, LT_ENERGY),
    "LU": pack(LU_TOTAL, None, LU_INTERMEDIATE, LU_NONDURABLES, LU_CAPITAL, LU_ENERGY),
    "HU": pack(HU_TOTAL, HU_DURABLES, HU_INTERMEDIATE, HU_NONDURABLES, HU_CAPITAL, HU_ENERGY),
    "MT": pack(MT_TOTAL, MT_DURABLES, MT_INTERMEDIATE, MT_NONDURABLES, MT_CAPITAL, MT_ENERGY),
    "NL": pack(NL_TOTAL, NL_DURABLES, NL_INTERMEDIATE, NL_NONDURABLES, NL_CAPITAL, NL_ENERGY),
    "AT": pack(AT_TOTAL, AT_DURABLES, AT_INTERMEDIATE, AT_NONDURABLES, AT_CAPITAL, AT_ENERGY),
    "PL": pack(PL_TOTAL, PL_DURABLES, PL_INTERMEDIATE, PL_NONDURABLES, PL_CAPITAL, PL_ENERGY),
}

bad = [f"{c}:{s}:{len(v)}" for c, d in DATA.items() for s, v in d.items() if v is not None and len(v) != 61]
if bad:
    raise ValueError("wrong lengths " + ", ".join(bad))

# title, code, column, row, y-min, y-max, y-step, x tick labels
PANELS = [
    ("Italy", "IT", 0, 0, 100, 160, 20, TICKS_DEC),
    ("Cyprus", "CY", 1, 0, 100, 180, 20, TICKS_DEC),
    ("Latvia", "LV", 0, 1, 60, 220, 40, TICKS_JAN),
    ("Lithuania", "LT", 1, 1, 80, 180, 20, TICKS_JAN),
    ("Luxembourg (1)", "LU", 0, 2, 80, 180, 20, TICKS_DEC),
    ("Hungary", "HU", 1, 2, 80, 200, 20, TICKS_DEC),
    ("Malta", "MT", 0, 3, 80, 200, 20, TICKS_DEC),
    ("The Netherlands", "NL", 1, 3, 100, 180, 20, TICKS_DEC),
    ("Austria", "AT", 0, 4, 90, 130, 10, TICKS_DEC),
    ("Poland", "PL", 1, 4, 80, 160, 20, TICKS_DEC),
]

# ---------------- styling / geometry ----------------
W, H = 1304, 1654
FONT = "Noto Sans"
INK = "#231f20"
DARK = "#1d5aa4"
GREEN = "#bedda0"
LBLUE = "#88c2eb"
AXIS = "#8c8c8c"
GRID = "#cdcdcd"

STYLES = {
    "Total industry": dict(color=DARK, width=2.3),
    "Consumer durables": dict(color=DARK, width=5.5, dash="7px,12px"),
    "Intermediate goods": dict(color=GREEN, width=5.5),
    "Consumer non-durables": dict(color=GREEN, width=5.5, dash="8px,12px"),
    "Capital goods": dict(color=LBLUE, width=2.2),
    "Energy": dict(color=LBLUE, width=2.6, dash="5px,7px"),
}
DRAW_ORDER = ["Intermediate goods", "Consumer non-durables", "Consumer durables",
              "Energy", "Capital goods", "Total industry"]

COL_X = [(61, 602), (735, 1277)]
ROW_Y = [(61, 211), (383, 533), (705, 855), (1027, 1176), (1347, 1496)]
TITLE_X = [324, 999]
TITLE_Y = [25, 347, 667, 989, 1311]


def px(xp):
    return xp / W


def py(yp):
    return 1 - yp / H


fig = go.Figure()
layout = dict(template="none", width=W, height=H,
              margin=dict(l=0, r=0, t=0, b=0, pad=0, autoexpand=False),
              paper_bgcolor="white", plot_bgcolor="white", showlegend=False,
              font=dict(family=FONT, color=INK, size=18))
shapes, annotations = [], []

for k, (title, code, col, row, ymin, ymax, step, labels) in enumerate(PANELS, start=1):
    sfx = "" if k == 1 else str(k)
    xr, yr = "x" + sfx, "y" + sfx
    x0p, x1p = COL_X[col]
    ytop, ybot = ROW_Y[row]
    layout["xaxis" + sfx] = dict(
        domain=[px(x0p), px(x1p)], anchor=yr, range=[0, 60], automargin=False,
        tickmode="array", tickvals=TICK_POS, ticktext=labels,
        showgrid=False, zeroline=False, showline=False,
        ticks="outside", ticklen=19, tickcolor="rgba(0,0,0,0)",
        tickfont=dict(family=FONT, size=18, color=INK), fixedrange=True)
    layout["yaxis" + sfx] = dict(
        domain=[py(ybot), py(ytop)], anchor=xr, range=[ymin, ymax], automargin=False,
        tickmode="array", tickvals=list(range(ymin, ymax + 1, step)),
        showgrid=True, gridcolor=GRID, gridwidth=1, zeroline=False, showline=False,
        ticks="outside", ticklen=12, tickcolor="rgba(0,0,0,0)",
        tickfont=dict(family=FONT, size=18, color=INK), fixedrange=True)

    for name in DRAW_ORDER:
        vals = DATA[code][name]
        if vals is None:
            continue
        fig.add_trace(go.Scatter(x=MONTHS, y=vals, mode="lines", name=name,
                                 line=STYLES[name], xaxis=xr, yaxis=yr,
                                 showlegend=False, hoverinfo="skip"))

    # category axis line drawn at index level 100, with year tick marks
    shapes.append(dict(type="line", xref=xr, yref=yr, x0=0, x1=60, y0=100, y1=100,
                       line=dict(color=AXIS, width=1.5), layer="below"))
    for t in TICK_POS:
        shapes.append(dict(type="line", xref=xr, yref=yr, x0=t, x1=t,
                           ysizemode="pixel", yanchor=100, y0=0, y1=-8,
                           line=dict(color=AXIS, width=1.5), layer="below"))

    annotations.append(dict(text=f"<b>{title}</b>", xref="paper", yref="paper",
                            x=px(TITLE_X[col]), y=py(TITLE_Y[row]),
                            xanchor="center", yanchor="middle", showarrow=False,
                            font=dict(family=FONT, size=20, color=INK)))

annotations.append(dict(text="(1) Consumer durables, not available.", xref="paper", yref="paper",
                        x=px(5), y=py(928), xanchor="left", yanchor="middle", showarrow=False,
                        font=dict(family=FONT, size=15.5, color=INK)))

# ---------------- legend (drawn as samples + labels) ----------------
LEG_LINE_X = [(195, 271), (554, 630), (913, 989)]
LEG_TEXT_X = [286, 644, 1002]
LEG_ROW_Y = [1613, 1640]
LEGEND = [("Total industry", 0, 0), ("Intermediate goods", 1, 0), ("Capital goods", 2, 0),
          ("Consumer durables", 0, 1), ("Consumer non-durables", 1, 1), ("Energy", 2, 1)]
LEG_STYLE = {
    "Total industry": dict(color=DARK, width=2.5),
    "Intermediate goods": dict(color=GREEN, width=6),
    "Capital goods": dict(color=LBLUE, width=2.5),
    "Consumer durables": dict(color=DARK, width=6, dash="17px,11px"),
    "Consumer non-durables": dict(color=GREEN, width=6, dash="17px,11px"),
    "Energy": dict(color=LBLUE, width=6, dash="17px,11px"),
}
for name, c, r in LEGEND:
    lx0, lx1 = LEG_LINE_X[c]
    yy = py(LEG_ROW_Y[r])
    shapes.append(dict(type="line", xref="paper", yref="paper", x0=px(lx0), x1=px(lx1),
                       y0=yy, y1=yy, line=LEG_STYLE[name]))
    annotations.append(dict(text=name, xref="paper", yref="paper", x=px(LEG_TEXT_X[c]), y=yy,
                            xanchor="left", yanchor="middle", showarrow=False,
                            font=dict(family=FONT, size=17.5, color=INK)))

layout["shapes"] = shapes
layout["annotations"] = annotations
fig.update_layout(**layout)

fig.write_html("out.html", config={"displayModeBar": False},
               post_script="document.body.style.margin='0';")
